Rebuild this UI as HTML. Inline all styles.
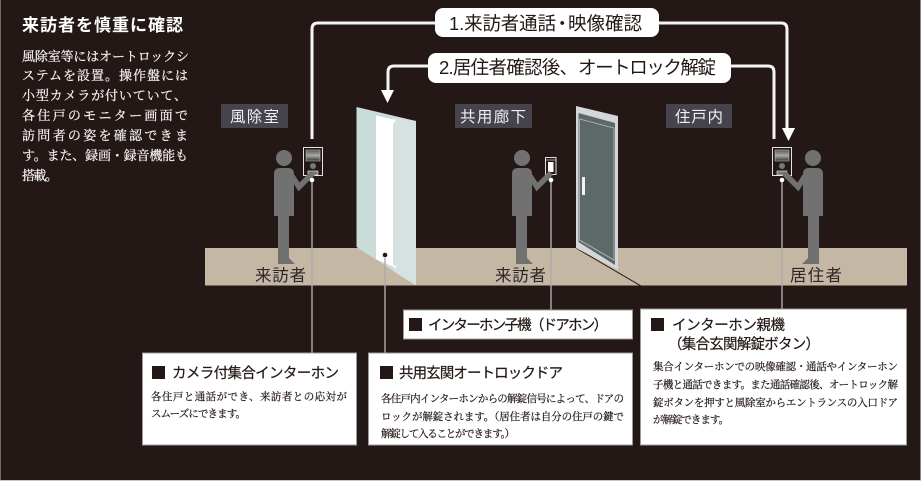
<!DOCTYPE html>
<html><head><meta charset="utf-8"><style>
html,body{margin:0;padding:0;background:#231815}
svg{display:block}
.s{font-family:"Liberation Sans","Noto Sans CJK JP",sans-serif}
.m{font-family:"Liberation Serif","Noto Serif CJK SC",serif;fill:#231815;font-size:10.5px;stroke:#231815;stroke-width:.22px}
.w{fill:#f4f2f0;font-size:13px;stroke:#f4f2f0;stroke-width:.25px}
.h{font-size:14.5px;fill:#231815;stroke:#231815;stroke-width:.2px}
.p{font-size:18.5px;fill:#231815}
.l{font-size:15.5px;fill:#f0f0f0}
.f{font-size:16.5px;fill:#2c2624}
</style></head><body>
<svg width="921" height="481" viewBox="0 0 921 481" xmlns="http://www.w3.org/2000/svg">
<defs>
<linearGradient id="scr" x1="0" y1="0" x2="0" y2="1"><stop offset="0" stop-color="#555"/><stop offset=".5" stop-color="#aaa"/><stop offset="1" stop-color="#333"/></linearGradient>
<g id="person" fill="#717171">
<circle cx="0" cy="158" r="8"/>
<path d="M-10 174Q-10 168-4 168H4Q10 168 10 174V216H5V263H9L5 260H5V263H-6V216H-10Z"/>
<path d="M5 264H-6L-6 258H5L9 262 11 264Z"/>
<polyline points="8,176 15,187 29,173" fill="none" stroke="#717171" stroke-width="5.500"/>
</g>
<g id="panel" fill="#231815" stroke="#e4e4e4">
<rect x="0.500" y="0.500" width="19" height="28"/>
<rect x="3" y="3" width="14" height="11" fill="url(#scr)" stroke="#bbb" stroke-width=".6"/>
<circle cx="10" cy="19" r="3" fill="#777" stroke="none"/>
<rect x="5" y="24" width="10" height="4" fill="#777" stroke="#ddd" stroke-width=".7"/>
</g>
</defs>
<rect width="921" height="481" fill="#231815"/>
<rect x="0" y="0" width="1" height="481" fill="#6e6a69"/>
<rect x="920" y="0" width="1" height="481" fill="#8a8787"/>
<rect x="0" y="480" width="921" height="1" fill="#c8c6c5"/>
<rect x="205" y="248" width="702" height="37.500" fill="#c4b8a4"/>

<!-- connectors -->
<g fill="none" stroke="#f4f4f4" stroke-width="3">
<path d="M435 23H318Q312 23 312 29V139"/>
<path d="M659 23H781Q787 23 787 29V130"/>
<path d="M428 66H394Q388 66 388 72V92"/>
<path d="M731 66H768Q774 66 774 72V139"/>
</g>
<path d="M381 90H394L387.500 103Z" fill="#fff"/>
<path d="M782 128H795L788.500 141Z" fill="#fff"/>
<rect x="435" y="8" width="224" height="29" rx="8" fill="#fff"/>
<rect x="428" y="53" width="303" height="30" rx="8" fill="#fff"/>
<text class="s p" x="449" y="30" textLength="107">1.来訪者通話</text>
<text class="s p" x="553" y="30">・</text>
<text class="s p" x="568" y="30" textLength="74">映像確認</text>
<text class="s p" x="439" y="74" textLength="139">2.居住者確認後、</text>
<text class="s p" x="578" y="74" textLength="138">オートロック解錠</text>

<!-- area labels -->
<rect x="221" y="104" width="67" height="24" fill="#46434d"/>
<rect x="455" y="104" width="77" height="24" fill="#46434d"/>
<rect x="666" y="104" width="66" height="24" fill="#46434d"/>
<text class="s l" x="230" y="122" textLength="49">風除室</text>
<text class="s l" x="460" y="122" textLength="66">共用廊下</text>
<text class="s l" x="675" y="122" textLength="48">住戸内</text>

<!-- door 1 -->
<polygon points="356.500,107 416,121 416,285.500 356.500,247" fill="#c9dcd9"/>
<polygon points="393,117 416,121 416,285.500 393,271" fill="#d6e2e2"/>
<polygon points="376,115.500 396,120 393,124 393,265 396,266 396,268 376,259" fill="#fff"/>
<circle cx="385" cy="255" r="2.300" fill="#231815"/>

<!-- door 2 -->
<line x1="576" y1="248" x2="641" y2="286" stroke="#231815" stroke-width="1"/>
<polygon points="576,106 618,116 618,270 576,248" fill="#d5d6da"/>
<polygon points="578.500,113 615,123 615,265 578.500,242" fill="#5d6868"/>
<polygon points="579.500,119 614,128 614,260 579.500,240" fill="none" stroke="#b8bfbf" stroke-width=".8"/>
<rect x="582" y="177" width="3" height="18" fill="#f2f2f2"/>

<!-- panels -->
<use href="#panel" transform="translate(303,147)"/>
<use href="#panel" transform="translate(772,147)"/>
<rect x="545.500" y="157.500" width="10.500" height="17" fill="#231815" stroke="#ddd"/>
<line x1="545.500" y1="160" x2="556" y2="160" stroke="#ddd" stroke-width=".7"/>
<rect x="548" y="162" width="5.500" height="10" fill="#fff"/>

<!-- persons -->
<use href="#person" transform="translate(284,0)"/>
<use href="#person" transform="translate(522,0)"/>
<use href="#person" transform="translate(813,0) scale(-1,1)"/>

<!-- leaders -->
<g stroke="#aeabaa" stroke-width="1.400">
<line x1="312" y1="180" x2="312" y2="353"/>
<line x1="385" y1="258" x2="385" y2="353"/>
<line x1="551" y1="180" x2="551" y2="310"/>
<line x1="782" y1="180" x2="782" y2="309"/>
</g>
<g fill="#fff"><circle cx="312" cy="180" r="2.300"/><circle cx="551" cy="180" r="2.300"/><circle cx="782" cy="180" r="2.300"/></g>

<!-- floor labels -->
<text class="s f" x="255" y="281" textLength="51">来訪者</text>
<text class="s f" x="495" y="281" textLength="51">来訪者</text>
<text class="s f" x="790" y="281" textLength="52">居住者</text>

<!-- left text -->
<text class="s" x="22" y="31" font-size="17" font-weight="700" fill="#fff" textLength="161">来訪者を慎重に確認</text>
<text class="m w" x="22" y="61" textLength="167">風除室等にはオートロックシ</text>
<text class="m w" x="22" y="80" textLength="166">ステムを設置。操作盤には</text>
<text class="m w" x="22" y="100" textLength="165">小型カメラが付いていて、</text>
<text class="m w" x="22" y="120" textLength="166">各住戸のモニター画面で</text>
<text class="m w" x="22" y="140" textLength="166">訪問者の姿を確認できま</text>
<text class="m w" x="22" y="160" textLength="166">す。また、録画・録音機能も</text>
<text class="m w" x="22" y="180" textLength="36">搭載。</text>

<!-- boxes -->
<g fill="#fff" stroke="#9c9a99" stroke-width="1">
<rect x="142.500" y="353" width="214" height="92"/>
<rect x="368.500" y="353" width="264" height="92"/>
<rect x="403.500" y="310" width="229" height="29"/>
<rect x="640.500" y="309" width="266" height="136"/>
</g>
<g fill="#231815">
<rect x="152" y="366" width="13" height="13"/>
<rect x="380" y="366" width="13" height="13"/>
<rect x="409" y="318" width="13" height="13"/>
<rect x="651" y="318" width="13" height="13"/>
</g>
<text class="s h" x="172" y="378" textLength="167">カメラ付集合インターホン</text>
<text class="s h" x="399" y="378" textLength="164">共用玄関オートロックドア</text>
<text class="s h" x="428" y="330" textLength="180">インターホン子機（ドアホン）</text>
<text class="s h" x="672" y="330" textLength="113">インターホン親機</text>
<text class="s h" x="668" y="349" textLength="152">（集合玄関解錠ボタン）</text>

<text class="m" x="151" y="400" textLength="196">各住戸と通話ができ、来訪者との応対が</text>
<text class="m" x="151" y="417" textLength="95">スムーズにできます。</text>

<text class="m" x="381" y="402" textLength="243">各住戸内インターホンからの解錠信号によって、ドアの</text>
<text class="m" x="381" y="420" textLength="243">ロックが解錠されます。（居住者は自分の住戸の鍵で</text>
<text class="m" x="381" y="437" textLength="134">解錠して入ることができます。）</text>

<text class="m" x="653" y="370" textLength="245">集合インターホンでの映像確認・通話やインターホン</text>
<text class="m" x="653" y="388" textLength="245">子機と通話できます。また通話確認後、オートロック解</text>
<text class="m" x="653" y="406" textLength="245">錠ボタンを押すと風除室からエントランスの入口ドア</text>
<text class="m" x="653" y="423" textLength="76">が解錠できます。</text>
</svg>
</body></html>
